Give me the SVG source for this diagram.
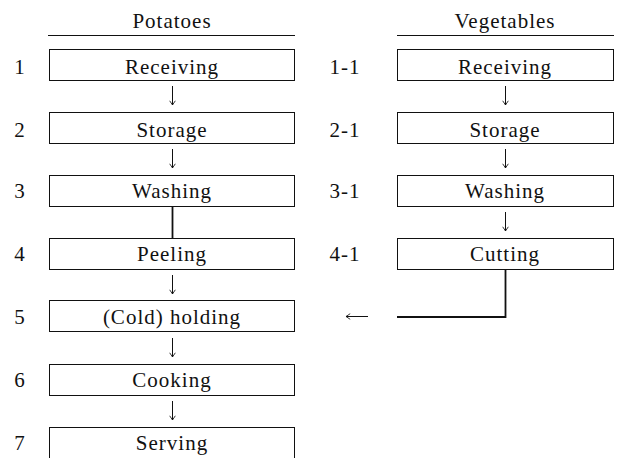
<svg xmlns="http://www.w3.org/2000/svg" width="621" height="458" viewBox="0 0 621 458">
  <style>
    text { font-family: "Liberation Serif", "DejaVu Serif", serif; font-size: 21px; letter-spacing: 1px; fill: #111; }
    .c { text-anchor: middle; }
    .box { fill: #fff; stroke: #111; stroke-width: 1; }
    .rule { stroke: #111; stroke-width: 1; }
    .arr { stroke: #111; stroke-width: 1; fill: none; marker-end: url(#head); }
    .link { stroke: #111; stroke-width: 1.8; fill: none; }
  </style>
  <defs>
    <!-- open arrowhead, drawn along +x so orient="auto" follows the line -->
    <marker id="head" viewBox="0 0 10 10" refX="9" refY="5" markerWidth="7" markerHeight="7" markerUnits="userSpaceOnUse" orient="auto">
      <path d="M3,1 L9,5 L3,9" fill="none" stroke="#111" stroke-width="1.2"/>
    </marker>
  </defs>

  <!-- column headings -->
  <g id="head-potatoes">
    <text class="c" x="172" y="28">Potatoes</text>
    <line class="rule" x1="48" y1="35.5" x2="295" y2="35.5"/>
  </g>
  <g id="head-vegetables">
    <text class="c" x="505" y="28">Vegetables</text>
    <line class="rule" x1="397" y1="35.5" x2="614" y2="35.5"/>
  </g>

  <!-- potato steps -->
  <g id="p1"><text class="c" x="20" y="74">1</text><rect class="box" x="49.5" y="49.5" width="245" height="31"/><text class="c" x="172" y="74">Receiving</text></g>
  <g id="p2"><text class="c" x="20" y="137">2</text><rect class="box" x="49.5" y="112.5" width="245" height="31"/><text class="c" x="172" y="137">Storage</text></g>
  <g id="p3"><text class="c" x="20" y="198">3</text><rect class="box" x="49.5" y="175.5" width="245" height="31"/><text class="c" x="172" y="198">Washing</text></g>
  <g id="p4"><text class="c" x="20" y="261">4</text><rect class="box" x="49.5" y="238.5" width="245" height="31"/><text class="c" x="172" y="261">Peeling</text></g>
  <g id="p5"><text class="c" x="20" y="324">5</text><rect class="box" x="49.5" y="300.5" width="245" height="31"/><text class="c" x="172" y="324">(Cold) holding</text></g>
  <g id="p6"><text class="c" x="20" y="387">6</text><rect class="box" x="49.5" y="364.5" width="245" height="31"/><text class="c" x="172" y="387">Cooking</text></g>
  <g id="p7"><text class="c" x="20" y="450">7</text><rect class="box" x="49.5" y="427.5" width="245" height="31"/><text class="c" x="172" y="450">Serving</text></g>

  <!-- vegetable steps -->
  <g id="v1"><text class="c" x="345" y="74">1-1</text><rect class="box" x="397.5" y="49.5" width="216" height="31"/><text class="c" x="505" y="74">Receiving</text></g>
  <g id="v2"><text class="c" x="345" y="137">2-1</text><rect class="box" x="397.5" y="112.5" width="216" height="31"/><text class="c" x="505" y="137">Storage</text></g>
  <g id="v3"><text class="c" x="345" y="198">3-1</text><rect class="box" x="397.5" y="175.5" width="216" height="31"/><text class="c" x="505" y="198">Washing</text></g>
  <g id="v4"><text class="c" x="345" y="261">4-1</text><rect class="box" x="397.5" y="238.5" width="216" height="31"/><text class="c" x="505" y="261">Cutting</text></g>

  <!-- connectors -->
  <g id="connectors">
    <line class="arr" x1="172.5" y1="86" x2="172.5" y2="105"/>
    <line class="arr" x1="172.5" y1="149" x2="172.5" y2="168"/>
    <line class="link" x1="172.5" y1="207" x2="172.5" y2="238"/>
    <line class="arr" x1="172.5" y1="275" x2="172.5" y2="294"/>
    <line class="arr" x1="172.5" y1="338" x2="172.5" y2="357"/>
    <line class="arr" x1="172.5" y1="401" x2="172.5" y2="420"/>

    <line class="arr" x1="505.5" y1="86" x2="505.5" y2="105"/>
    <line class="arr" x1="505.5" y1="149" x2="505.5" y2="168"/>
    <line class="arr" x1="505.5" y1="212" x2="505.5" y2="231"/>
    <polyline class="link" points="505.5,270 505.5,317 397,317"/>
    <line class="arr" x1="368" y1="316.5" x2="346" y2="316.5"/>
  </g>
</svg>
